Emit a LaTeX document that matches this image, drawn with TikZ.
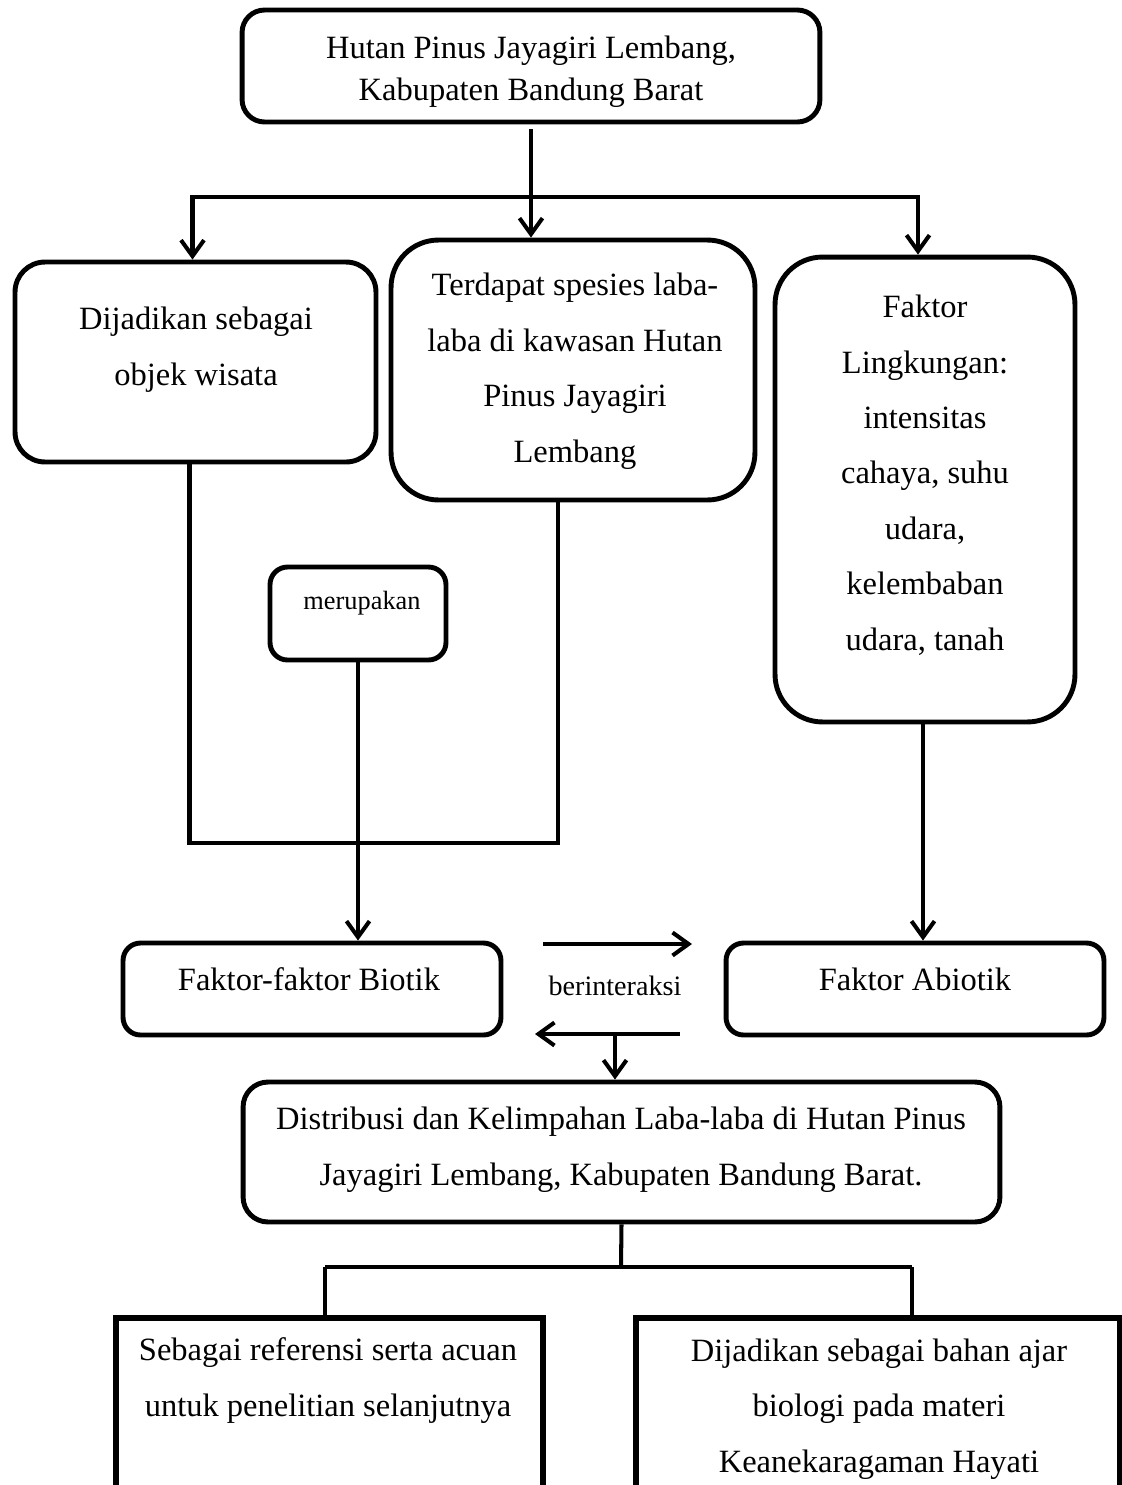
\documentclass[tikz,border=0pt]{standalone}
\usepackage{fontspec}
\setmainfont{Liberation Serif}
\usetikzlibrary{arrows.meta}

\begin{document}
\begin{tikzpicture}[
    x=0.02cm, y=-0.02cm,
    box/.style={draw, line width=2.8pt, rounded corners=0.45cm, inner sep=0pt},
    txt/.style={align=center, inner sep=0pt, anchor=base, font=\fontsize{18.5}{31.5}\selectfont},
    small/.style={inner sep=0pt, anchor=base, font=\fontsize{15}{18}\selectfont},
    conn/.style={line width=2.3pt, arrows={-Straight Barb[length=0.32cm, width=0.46cm]}},
    line/.style={line width=2.3pt},
    plain/.style={line width=3.2pt},
]
\useasboundingbox (0,0) rectangle (1122,1485);

% Boxes
\node[box, minimum width=11.56cm, minimum height=2.24cm] (hutan) at (531,66) {};
\node[box, minimum width=7.22cm, minimum height=4cm, rounded corners=0.6cm] (wisata) at (195.5,362) {};
\node[box, minimum width=7.28cm, minimum height=5.2cm, rounded corners=0.95cm] (spesies) at (573,370) {};
\node[box, minimum width=6cm, minimum height=9.3cm, rounded corners=0.95cm] (lingkungan) at (925,489.5) {};
\node[box, minimum width=3.52cm, minimum height=1.86cm, rounded corners=0.35cm] (merupakan) at (358,613.5) {};
\node[box, minimum width=7.56cm, minimum height=1.84cm, rounded corners=0.35cm] (biotik) at (312,989) {};
\node[box, minimum width=7.56cm, minimum height=1.84cm, rounded corners=0.35cm] (abiotik) at (915,989) {};
\node[box, minimum width=15.14cm, minimum height=2.8cm, rounded corners=0.5cm] (distribusi) at (621.5,1152) {};

% Texts (anchored at the baseline of the last line)
\node[txt, font=\fontsize{18.5}{23.8}\selectfont] (hutanT) at (531,100) {Hutan Pinus Jayagiri Lembang,\\Kabupaten Bandung Barat};
\node[txt] (wisataT) at (196,385) {Dijadikan sebagai\\objek wisata};
\node[txt] (spesiesT) at (575,462) {Terdapat spesies laba-\\laba di kawasan Hutan\\Pinus Jayagiri\\Lembang};
\node[txt] (lingkunganT) at (925,650) {Faktor\\Lingkungan:\\intensitas\\cahaya, suhu\\udara,\\kelembaban\\udara, tanah};
\node[small] (merupakanT) at (362,609) {merupakan};
\node[txt] (biotikT) at (309,990) {Faktor-faktor Biotik};
\node[txt] (abiotikT) at (915,990) {Faktor Abiotik};
\node[small, font=\fontsize{16}{19}\selectfont] (interaksi) at (615,995) {berinteraksi};
\node[txt] (distribusiT) at (621,1185) {Distribusi dan Kelimpahan Laba-laba di Hutan Pinus\\Jayagiri Lembang, Kabupaten Bandung Barat.};
\node[txt] (referensiT) at (328,1416) {Sebagai referensi serta acuan\\untuk penelitian selanjutnya};
\node[txt] (ajarT) at (879,1472) {Dijadikan sebagai bahan ajar\\biologi pada materi\\Keanekaragaman Hayati};

% Open bottom boxes
\coordinate (referensi) at (328,1318);
\coordinate (ajar) at (878,1318);
\draw[plain] (116,1485) |- (543,1318) -- (543,1485);
\draw[plain] (636,1485) |- (1120,1318) -- (1120,1485);

% Connectors
\coordinate (bar) at (530,197);
\draw[conn] ([yshift=-0.1cm]hutan.south) -- (hutan.south |- spesies.north);
\draw[conn] (bar) -| ([xshift=-0.06cm]wisata.north);
\draw[conn] (bar) -| ([xshift=-0.14cm]lingkungan.north);

\coordinate (join) at (358,843);
\draw[line] ([xshift=-0.12cm]wisata.south) |- (join) -| ([xshift=-0.3cm]spesies.south);
\draw[conn] (merupakan.south) -- (merupakan.south |- biotik.north);
\draw[conn] ([xshift=-0.04cm]lingkungan.south) -- ([xshift=-0.04cm]lingkungan.south |- abiotik.north);

\coordinate (kanan1) at (543,944);
\coordinate (kanan2) at (692,944);
\coordinate (kiri1) at (680,1034);
\coordinate (kiri2) at (535,1034);
\coordinate (turun) at (615,1034);
\draw[conn] (kanan1) -- (kanan2);
\draw[conn] (kiri1) -- (kiri2);
\draw[conn] (turun) -- (turun |- distribusi.north);

\coordinate (cabang) at (621,1267);
\draw[line] (distribusi.south) -- (cabang);
\draw[line] (325,1267) -- (912,1267);
\draw[line] (325,1267) -- (325,1318);
\draw[line] (912,1267) -- (912,1318);

\end{tikzpicture}
\end{document}
